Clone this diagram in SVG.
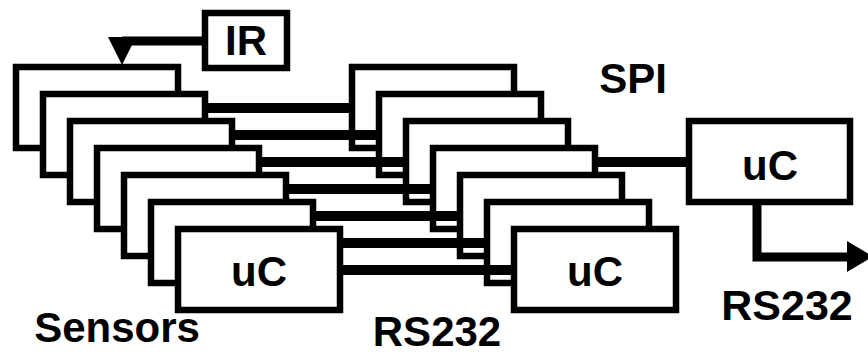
<svg xmlns="http://www.w3.org/2000/svg" width="868" height="354" viewBox="0 0 868 354">
<style>
.box{fill:#fff;stroke:#000;stroke-width:6.5}
.wire{fill:none;stroke:#000;stroke-width:10}
.head{fill:#000}
text{font-family:"Liberation Sans",Arial,sans-serif;font-weight:bold;font-size:42px;fill:#000;text-anchor:middle}
</style>
<rect width="868" height="354" fill="#fff"/>
<g id="sensor1"><rect class="box" x="16" y="67" width="162" height="81"/></g>
<g id="sensor2"><rect class="box" x="43" y="94" width="162" height="81"/></g>
<g id="sensor3"><rect class="box" x="70" y="121" width="162" height="81"/></g>
<g id="sensor4"><rect class="box" x="97" y="148" width="162" height="81"/></g>
<g id="sensor5"><rect class="box" x="124" y="175" width="162" height="81"/></g>
<g id="sensor6"><rect class="box" x="151" y="202" width="162" height="81"/></g>
<g id="sensor7"><rect class="box" x="178" y="229" width="162" height="81"/><text x="259" y="286">uC</text></g>
<g id="uc1"><rect class="box" x="352" y="67" width="162" height="81"/></g>
<g id="uc2"><rect class="box" x="379" y="94" width="162" height="81"/></g>
<g id="uc3"><rect class="box" x="406" y="121" width="162" height="81"/></g>
<g id="uc4"><rect class="box" x="433" y="148" width="162" height="81"/></g>
<g id="uc5"><rect class="box" x="460" y="175" width="162" height="81"/></g>
<g id="uc6"><rect class="box" x="487" y="202" width="162" height="81"/></g>
<g id="uc7"><rect class="box" x="514" y="229" width="162" height="81"/><text x="595" y="286">uC</text></g>
<g id="master"><rect class="box" x="689" y="121" width="161" height="81"/><text x="770" y="180">uC</text></g>
<g id="ir"><rect class="box" x="205" y="13" width="82" height="55"/><text x="246" y="55">IR</text></g>
<g id="connectors">
<line class="wire" x1="205" y1="108" x2="352" y2="108"/>
<line class="wire" x1="232" y1="135" x2="379" y2="135"/>
<line class="wire" x1="259" y1="162" x2="406" y2="162"/>
<line class="wire" x1="286" y1="189" x2="433" y2="189"/>
<line class="wire" x1="313" y1="216" x2="460" y2="216"/>
<line class="wire" x1="340" y1="243" x2="487" y2="243"/>
<line class="wire" x1="340" y1="270" x2="514" y2="270"/>
<line class="wire" x1="595" y1="162" x2="689" y2="162"/>
<line class="wire" x1="122" y1="41" x2="205" y2="41" style="stroke-width:9"/>
<polygon class="head" points="108,37 136,37 122,65"/>
<polyline class="wire" points="757,205 757,257 849,257" style="stroke-width:9"/>
<polygon class="head" points="847,241 847,272 873,256.5"/>
</g>
<text x="633" y="93">SPI</text>
<text x="117" y="342">Sensors</text>
<text x="437" y="346">RS232</text>
<text x="787" y="320" style="font-size:43px">RS232</text>
</svg>
